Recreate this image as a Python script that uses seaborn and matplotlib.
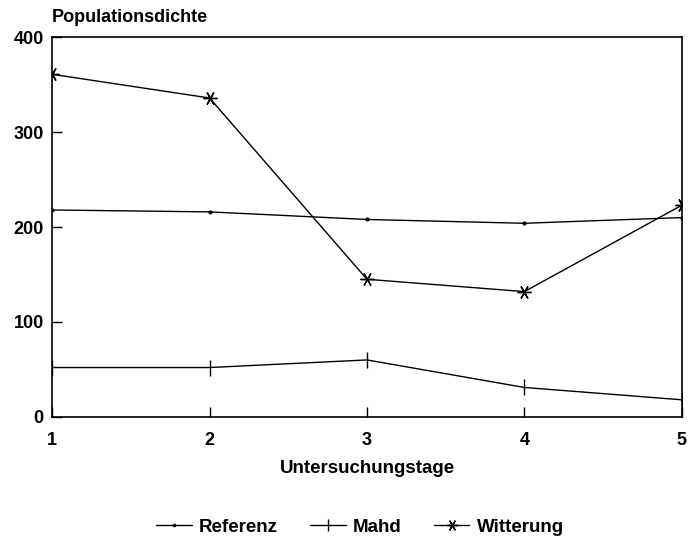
import matplotlib
matplotlib.use("Agg")
import matplotlib.pyplot as plt
import seaborn as sns
import pandas as pd

# data
tage = [1, 2, 3, 4, 5]
referenz = [218, 216, 208, 204, 210]
mahd = [52, 52, 60, 31, 18]
witterung = [361, 336, 145, 132, 223]

df = pd.DataFrame({"Untersuchungstage": tage * 3,
                   "Populationsdichte": referenz + mahd + witterung,
                   "Serie": ["Referenz"] * 5 + ["Mahd"] * 5 + ["Witterung"] * 5})

sns.set_style("white", {"text.color": "black", "axes.labelcolor": "black",
                        "xtick.color": "black", "ytick.color": "black"})
plt.rcParams['font.family'] = ['Liberation Sans', 'DejaVu Sans']
plt.rcParams['font.weight'] = 'bold'

fig = plt.figure(figsize=(6.95, 5.4), dpi=100)
ax = fig.add_axes([0.075, 0.228, 0.906, 0.703])

# marker per series: dot, vertical bar, six-armed asterisk
markers = {"Referenz": ".", "Mahd": "|", "Witterung": (6, 2, 90)}
sizes = {"Referenz": 4, "Mahd": 11, "Witterung": 10}
for name in ["Referenz", "Mahd", "Witterung"]:
    sub = df[df["Serie"] == name]
    sns.lineplot(data=sub, x="Untersuchungstage", y="Populationsdichte", ax=ax,
                 color="black", lw=1, marker=markers[name], markersize=sizes[name],
                 markeredgewidth=1, markerfacecolor="black", markeredgecolor="black",
                 label=name)

ax.set_xlim(1, 5)
ax.set_ylim(0, 400)
ax.set_xticks(tage)
ax.set_yticks([0, 100, 200, 300, 400])
ax.tick_params(direction="in", length=7, width=1, labelsize=13, color="black",
               labelcolor="black", bottom=True, left=True, top=False, right=False)
ax.tick_params(axis="x", pad=11)
ax.tick_params(axis="y", pad=6)
for s in ax.spines.values():
    s.set_color("black")
    s.set_linewidth(1.2)
ax.set_xlabel("Untersuchungstage", fontsize=13.5, fontweight="bold", labelpad=8,
              color="black")
ax.set_ylabel("")
ax.text(0.0, 1.03, "Populationsdichte", transform=ax.transAxes, fontsize=13,
        fontweight="bold", ha="left", va="bottom", color="black")

ax.legend(loc="center", bbox_to_anchor=(0.489, -0.29), ncol=3, frameon=False,
          fontsize=13.5, handlelength=1.9, columnspacing=1.7, handletextpad=0.4,
          markerscale=0.8, labelcolor="black")

fig.savefig("out.png", dpi=100)
